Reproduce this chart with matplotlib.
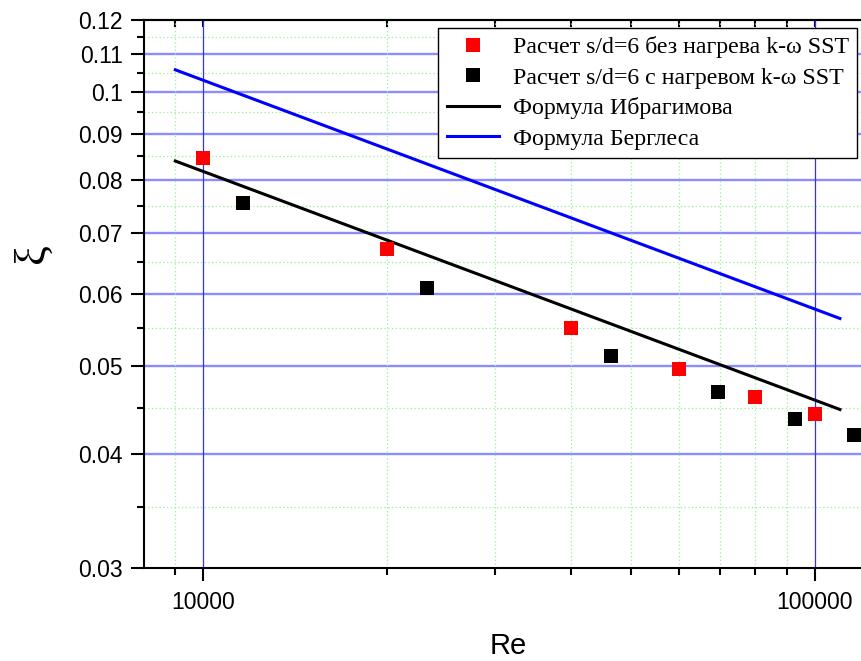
import matplotlib
matplotlib.use("Agg")
import matplotlib.pyplot as plt
from matplotlib.ticker import FixedLocator, FixedFormatter, NullFormatter

# data
re_cold = [10000, 20000, 40000, 60000, 80000, 100000]
xi_cold = [0.0846, 0.0672, 0.0551, 0.0496, 0.0462, 0.0443]
re_hot = [11600, 23200, 46400, 69600, 92800, 116000]
xi_hot = [0.0755, 0.0609, 0.0513, 0.0468, 0.0437, 0.0420]
re_line = [9000, 110000]
xi_ibr = [0.0840, 0.0448]
xi_berg = [0.1058, 0.0564]

y_major = [0.03, 0.04, 0.05, 0.06, 0.07, 0.08, 0.09, 0.10, 0.11, 0.12]
y_labels = ["0.03", "0.04", "0.05", "0.06", "0.07", "0.08", "0.09", "0.1", "0.11", "0.12"]
y_minor = [0.035, 0.045, 0.055, 0.065, 0.075, 0.085, 0.095, 0.105, 0.115]
x_major = [10000, 100000]
x_labels = ["10000", "100000"]
x_minor = [9000, 20000, 30000, 40000, 50000, 60000, 70000, 80000, 90000]

plt.rcParams['font.family'] = ['Liberation Sans', 'DejaVu Sans']

fig = plt.figure(figsize=(8.62, 6.61), dpi=100)
ax = fig.add_axes([0.1671, 0.1407, 0.8341, 0.829])
ax.set_xscale('log')
ax.set_yscale('log')
ax.set_xlim(8000, 120000)
ax.set_ylim(0.03, 0.12)

# grid
for v in y_major[1:-1]:
    ax.axhline(v, color='#8c8cff', lw=1.7, zorder=1)
for v in y_minor:
    ax.axhline(v, color='#99ee99', lw=0.9, ls=(0, (1, 2)), zorder=1)
for v in x_major:
    ax.axvline(v, color='#3030ff', lw=0.9, zorder=1)
for v in x_minor:
    ax.axvline(v, color='#99ee99', lw=0.9, ls=(0, (1, 2)), zorder=1)

ax.plot(re_cold, xi_cold, 's', color='#ff0000', ms=9.5, mew=0, ls='none', zorder=4,
        label='Расчет s/d=6 без нагрева k-ω SST')
ax.plot(re_hot, xi_hot, 's', color='black', ms=9.5, mew=0, ls='none', zorder=4,
        label='Расчет s/d=6 с нагревом k-ω SST')
ax.plot(re_line, xi_ibr, color='black', lw=2.2, zorder=3, label='Формула Ибрагимова')
ax.plot(re_line, xi_berg, color='#0000ff', lw=2.2, zorder=3, label='Формула Берглеса')

# ticks
ax.yaxis.set_major_locator(FixedLocator(y_major))
ax.yaxis.set_major_formatter(FixedFormatter(y_labels))
ax.yaxis.set_minor_locator(FixedLocator(y_minor))
ax.yaxis.set_minor_formatter(NullFormatter())
ax.xaxis.set_major_locator(FixedLocator(x_major))
ax.xaxis.set_major_formatter(FixedFormatter(x_labels))
ax.xaxis.set_minor_locator(FixedLocator(x_minor))
ax.xaxis.set_minor_formatter(NullFormatter())
ax.tick_params(which='major', direction='out', length=9.5, width=1.5, labelsize=16.5, pad=6)
ax.tick_params(which='minor', direction='out', length=5, width=1.5)
ax.tick_params(axis='x', which='major', pad=7)

top = ax.secondary_xaxis('top')
top.xaxis.set_major_locator(FixedLocator(x_major))
top.xaxis.set_minor_locator(FixedLocator(x_minor))
top.xaxis.set_major_formatter(NullFormatter())
top.xaxis.set_minor_formatter(NullFormatter())
top.tick_params(which='both', direction='in', length=5, width=1.5)
top.spines['top'].set_linewidth(1.5)

for s in ax.spines.values():
    s.set_linewidth(1.5)

ax.set_xlabel('Re', fontsize=21)
ax.xaxis.set_label_coords(0.506, -0.142)
ax.xaxis.label.set_va('center')
ax.set_ylabel('ξ', fontsize=32, family=['Liberation Serif', 'DejaVu Serif'])
ax.yaxis.set_label_coords(-0.155, 0.575)
ax.yaxis.label.set_va('center')

leg = ax.legend(loc='upper right', bbox_to_anchor=(857 / 862, 1 - 28 / 661),
                bbox_transform=fig.transFigure, fancybox=False, framealpha=1,
                edgecolor='black', borderaxespad=0, handlelength=2.2,
                labelspacing=0.36, handletextpad=0.55, borderpad=0.35,
                prop={'family': ['Liberation Serif', 'DejaVu Serif'], 'size': 17.2})
leg.get_frame().set_linewidth(1.0)
leg.set_zorder(6)

fig.savefig('out.png', dpi=100)
